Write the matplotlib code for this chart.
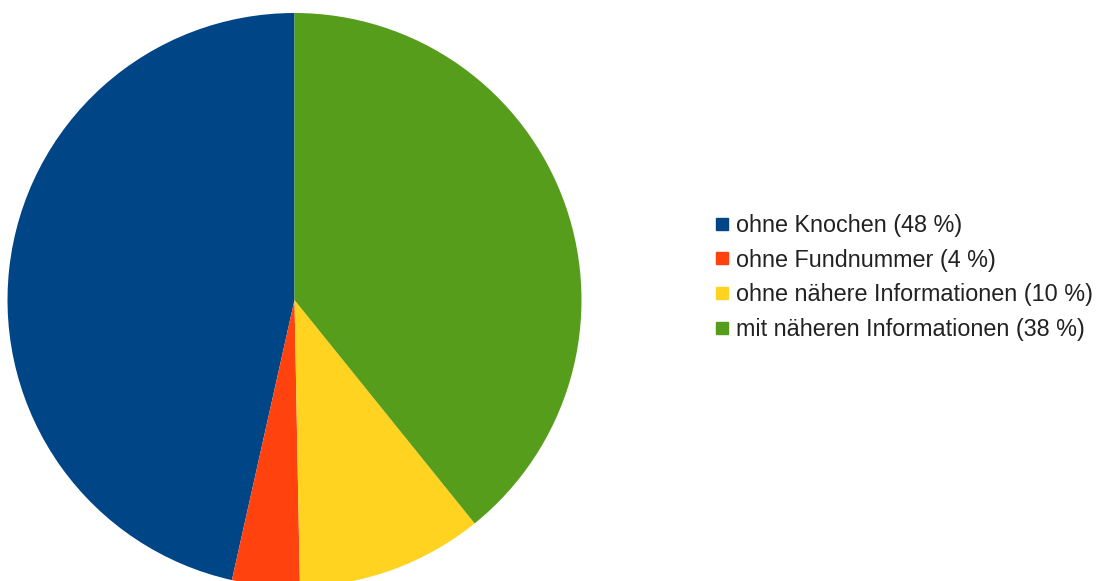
import matplotlib.pyplot as plt
from matplotlib.lines import Line2D

categories = ["ohne Knochen", "ohne Fundnummer", "ohne nähere Informationen", "mit näheren Informationen"]
# percentages printed in the legend
label_pct = [48, 4, 10, 38]
# slice sizes as drawn in the picture (measured from the wedge angles)
slice_sizes = [46.5, 3.8, 10.5, 39.2]
colors = ['#004586', '#ff420e', '#ffd320', '#579d1c']

plt.rcParams['font.family'] = ['Liberation Sans', 'DejaVu Sans']

fig = plt.figure(figsize=(11.08, 5.81), dpi=100)
ax = fig.add_axes([7.5 / 1108, -6 / 581, 574 / 1108, 574 / 581])
ax.pie(slice_sizes, colors=colors, startangle=90, counterclock=True,
       radius=1.0, wedgeprops=dict(linewidth=0))
ax.set_xlim(-1, 1)
ax.set_ylim(-1, 1)
ax.set_aspect('equal')
ax.axis('off')

handles = [Line2D([], [], marker='s', linestyle='none', markersize=8.6,
                  markerfacecolor=c, markeredgecolor=c) for c in colors]
labels = ["%s (%d %%)" % (n, v) for n, v in zip(categories, label_pct)]
fig.legend(handles, labels, loc='upper left', bbox_to_anchor=(716 / 1108, 1 - 214 / 581),
           frameon=False, fontsize=16.8, handlelength=0.55, handletextpad=0.3,
           labelspacing=0.5, borderpad=0, borderaxespad=0, labelcolor='#222222')

fig.savefig("out.png", dpi=100)
